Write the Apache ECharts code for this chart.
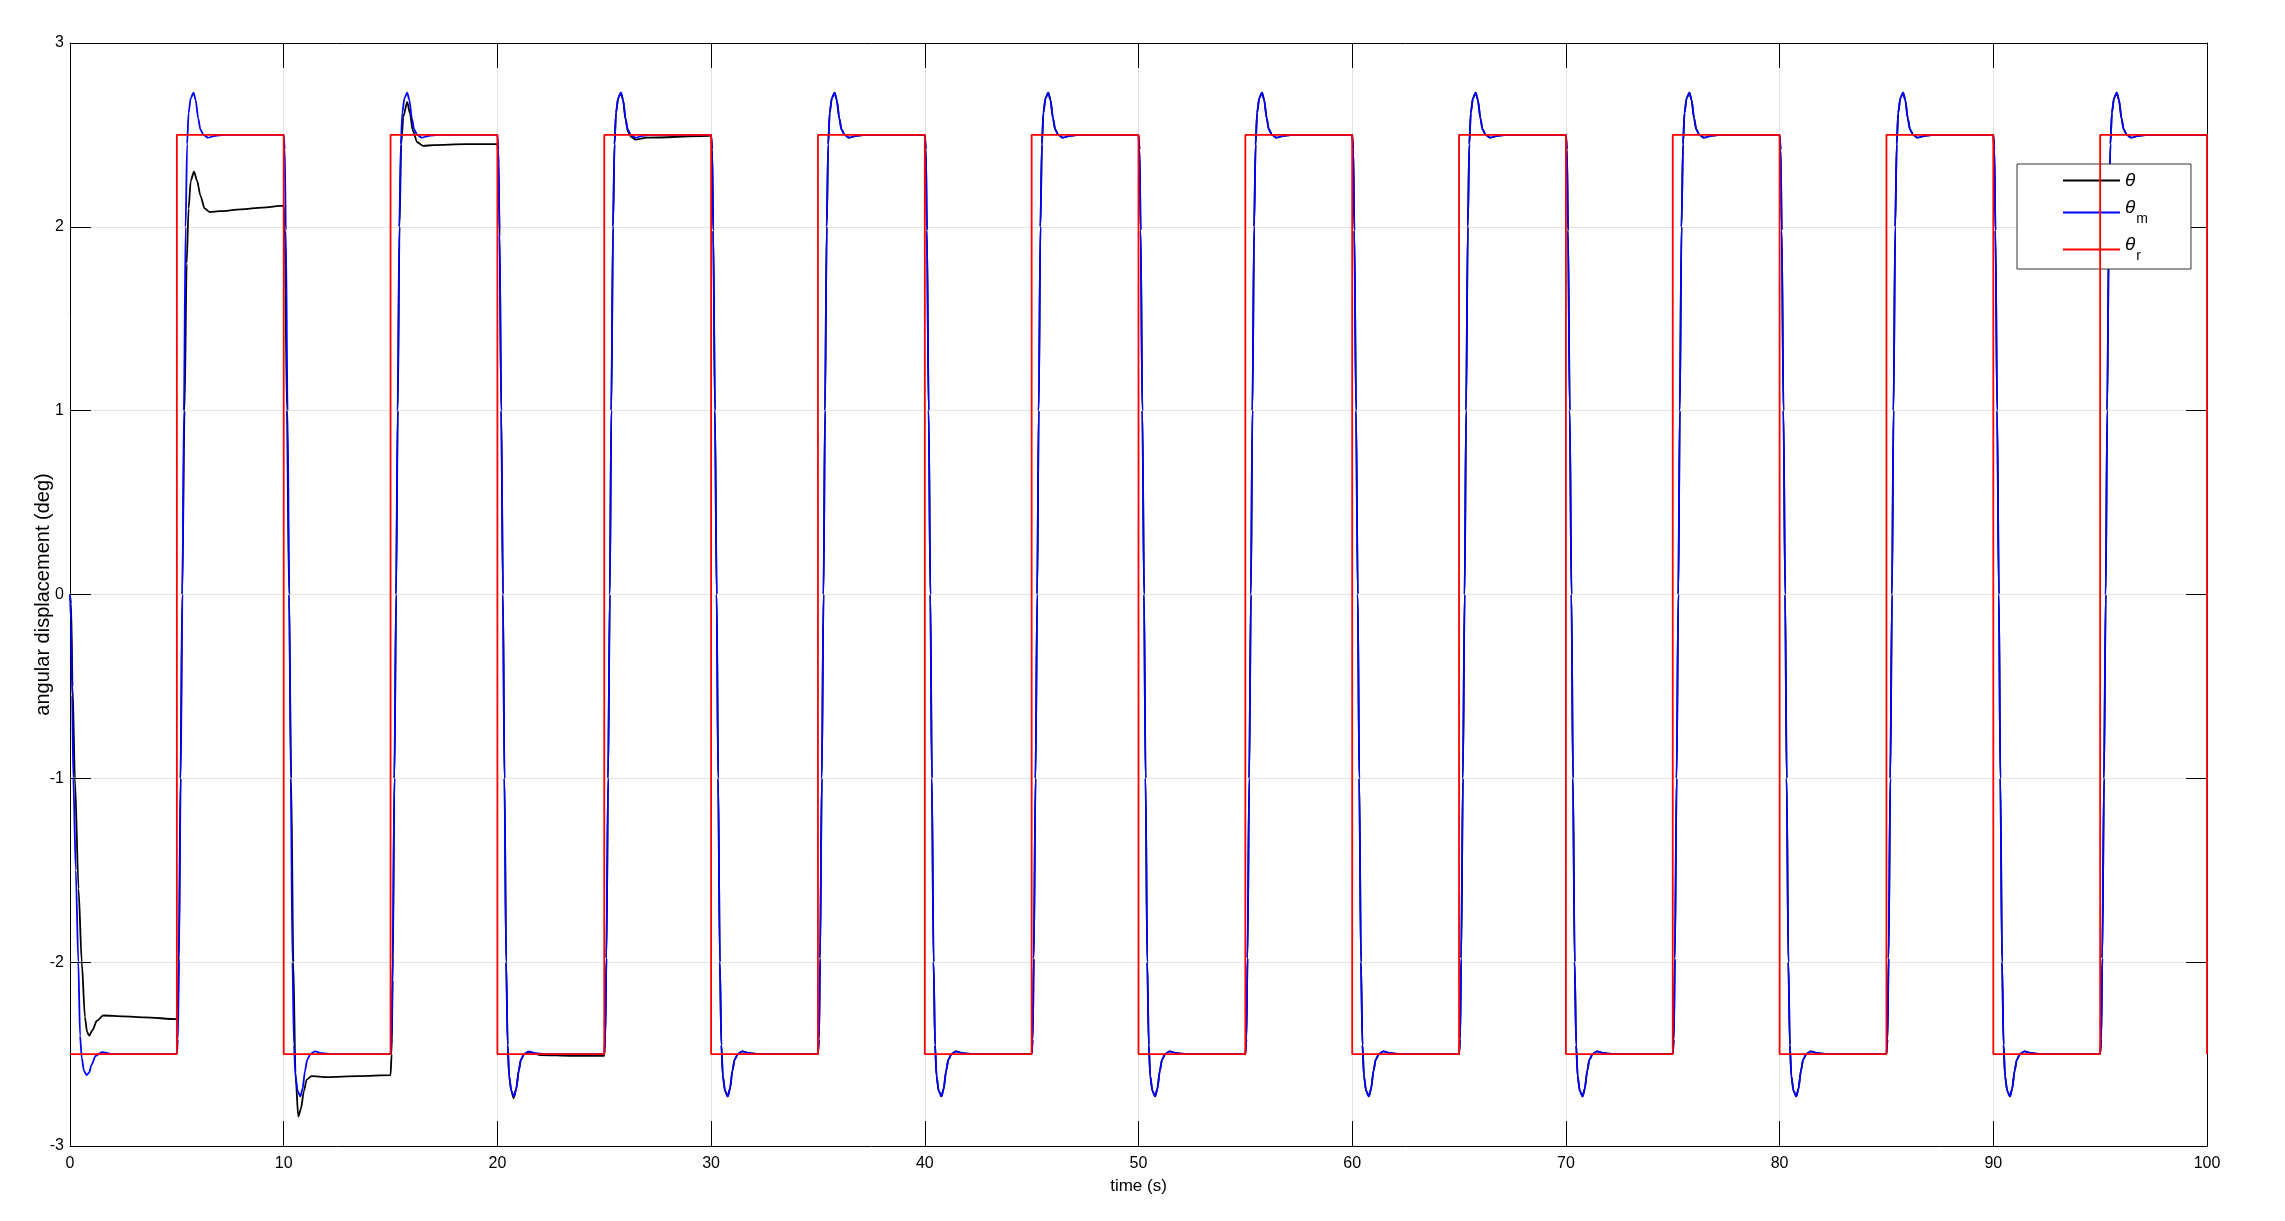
<!DOCTYPE html>
<html>
<head>
<meta charset="utf-8">
<script src="https://cdn.jsdelivr.net/npm/echarts@6/dist/echarts.min.js"></script>
<style>
html,body{margin:0;padding:0;background:#ffffff;}
#chart{width:2285px;height:1221px;}
</style>
</head>
<body>
<div id="chart"></div>
<script>
// ---------------- data ----------------
// switching instants of the square reference (s) and level after each switch (deg)
const switchTimes = [5,10,15,20,25,30,35,40,45,50,55,60,65,70,75,80,85,90,95,100];
const refLevels   = [2.5,-2.5,2.5,-2.5,2.5,-2.5,2.5,-2.5,2.5,-2.5,2.5,-2.5,2.5,-2.5,2.5,-2.5,2.5,-2.5,2.5,-2.5];
const refStartLevel = -2.5;

// model output θm : first response from 0 (absolute time, deg)
const modelInitial = [[0,0],[0.05,-0.15],[0.1,-0.55],[0.155,-1.0],[0.27,-1.5],[0.39,-2.0],[0.47,-2.4],
  [0.55,-2.52],[0.65,-2.59],[0.78,-2.615],[0.9,-2.6],[1.0,-2.56],[1.2,-2.51],[1.5,-2.49],[2.0,-2.5]];
// model output θm : response after a rising switch (time after switch, deg)
const modelRise = [[0,-2.5],[0.05,-2.42],[0.1,-1.98],[0.18,-1.0],[0.26,0.0],[0.33,1.0],[0.41,2.0],[0.48,2.45],
  [0.55,2.62],[0.65,2.7],[0.78,2.73],[0.88,2.69],[1.0,2.59],[1.1,2.53],[1.25,2.5],[1.45,2.485],[1.8,2.495],[2.2,2.5]];
// model output θm : response after a falling switch (time after switch, deg)
const modelFall = [[0,2.5],[0.05,2.42],[0.1,1.98],[0.18,1.0],[0.26,0.0],[0.33,-1.0],[0.41,-2.0],[0.48,-2.45],
  [0.55,-2.62],[0.65,-2.7],[0.78,-2.73],[0.88,-2.69],[1.0,-2.59],[1.1,-2.53],[1.25,-2.5],[1.45,-2.485],[1.8,-2.495],[2.2,-2.5]];

// plant output θ : first 30 s (absolute time, deg); afterwards it coincides with θm
const plantEarly = [
  [0,0],[0.05,-0.05],[0.12,-0.5],[0.23,-1.0],[0.4,-1.6],[0.55,-2.0],[0.7,-2.3],[0.8,-2.38],[0.9,-2.4],
  [1.05,-2.37],[1.25,-2.32],[1.56,-2.29],[2.5,-2.295],[3.5,-2.3],[5,-2.31],
  [5.05,-2.25],[5.09,-2.0],[5.17,-1.0],[5.25,0.0],[5.36,1.0],[5.46,1.8],[5.55,2.1],[5.65,2.25],[5.8,2.3],
  [5.95,2.25],[6.1,2.17],[6.3,2.1],[6.55,2.08],[7,2.085],[8,2.095],[9,2.105],[10,2.115],
  [10.05,2.0],[10.15,1.0],[10.25,0.0],[10.35,-1.0],[10.45,-2.0],[10.55,-2.6],[10.68,-2.84],[10.8,-2.8],
  [10.95,-2.7],[11.07,-2.64],[11.3,-2.62],[12,-2.625],[13.5,-2.62],[15,-2.615],
  [15.05,-2.5],[15.1,-2.1],[15.18,-1.0],[15.26,0.0],[15.34,1.0],[15.42,2.0],[15.5,2.45],[15.6,2.6],
  [15.78,2.68],[15.9,2.62],[16.05,2.52],[16.25,2.46],[16.53,2.44],[17,2.445],[18.5,2.45],[20,2.45],
  [20.05,2.35],[20.1,1.95],[20.18,1.0],[20.26,0.0],[20.33,-1.0],[20.41,-2.0],[20.48,-2.45],[20.55,-2.62],
  [20.65,-2.7],[20.76,-2.74],[20.88,-2.69],[21.0,-2.59],[21.1,-2.53],[21.25,-2.5],[21.5,-2.49],[22,-2.505],
  [23.5,-2.51],[25,-2.51],
  [25.05,-2.4],[25.1,-1.98],[25.18,-1.0],[25.26,0.0],[25.33,1.0],[25.41,2.0],[25.48,2.45],[25.55,2.62],
  [25.65,2.7],[25.78,2.73],[25.88,2.69],[26.0,2.58],[26.1,2.52],[26.25,2.49],[26.45,2.475],[27,2.485],[29.9,2.495]
];
const plantFollowsModelFrom = 30;

const seriesNames = ['theta','theta_m','theta_r'];
const legendLabels = {theta:['θ',''], theta_m:['θ','m'], theta_r:['θ','r']};

// ---------------- build series from the arrays ----------------
function buildFromSwitches(initial, fromTime) {
  const pts = initial.slice();
  for (let i = 0; i < switchTimes.length; i++) {
    const s = switchTimes[i];
    if (s < fromTime) continue;
    const tpl = refLevels[i] > 0 ? modelRise : modelFall;
    for (const p of tpl) {
      if (s + p[0] <= 100) pts.push([s + p[0], p[1]]);
    }
  }
  return pts;
}
const modelData = buildFromSwitches(modelInitial, 5);
const plantData = buildFromSwitches(plantEarly, plantFollowsModelFrom);
const refData = [[0, refStartLevel]];
let prev = refStartLevel;
for (let i = 0; i < switchTimes.length; i++) {
  refData.push([switchTimes[i], prev]);
  refData.push([switchTimes[i], refLevels[i]]);
  prev = refLevels[i];
}

// ---------------- chart ----------------
const FONT = 'Liberation Sans, Arial, Helvetica, sans-serif';
const chart = echarts.init(document.getElementById('chart'), null, {renderer:'canvas'});
const tickStyle = {color:'#000000', width:1};
chart.setOption({
  animation: false,
  backgroundColor: '#ffffff',
  grid: {left:70, top:43, right:78, bottom:75, containLabel:false},
  xAxis: [
    {type:'value', min:0, max:100, interval:10, position:'bottom',
     name:'time (s)', nameLocation:'middle', nameGap:32, nameMoveOverlap:false,
     nameTextStyle:{color:'#000', fontSize:17, fontFamily:FONT},
     axisLine:{show:true, onZero:false, lineStyle:{color:'#000', width:1}},
     axisTick:{show:true, inside:true, length:25, lineStyle:tickStyle},
     axisLabel:{color:'#000', fontSize:16, fontFamily:FONT, margin:10},
     splitLine:{show:true, lineStyle:{color:'#e3e3e3', width:1}}},
    {type:'value', min:0, max:100, interval:10, position:'top',
     axisLine:{show:true, onZero:false, lineStyle:{color:'#000', width:1}},
     axisTick:{show:true, inside:true, length:25, lineStyle:tickStyle},
     axisLabel:{show:false}, splitLine:{show:false}}
  ],
  yAxis: [
    {type:'value', min:-3, max:3, interval:1, position:'left',
     name:'angular displacement (deg)', nameLocation:'middle', nameGap:17, nameRotate:90, nameMoveOverlap:false,
     nameTextStyle:{color:'#000', fontSize:20, fontFamily:FONT},
     axisLine:{show:true, onZero:false, lineStyle:{color:'#000', width:1}},
     axisTick:{show:true, inside:true, length:21, lineStyle:tickStyle},
     axisLabel:{color:'#000', fontSize:16, fontFamily:FONT, margin:6},
     splitLine:{show:true, lineStyle:{color:'#e3e3e3', width:1}}},
    {type:'value', min:-3, max:3, interval:1, position:'right',
     axisLine:{show:true, onZero:false, lineStyle:{color:'#000', width:1}},
     axisTick:{show:true, inside:true, length:21, lineStyle:tickStyle},
     axisLabel:{show:false}, splitLine:{show:false}}
  ],
  legend: {
    data: seriesNames, orient:'vertical', left:2017, top:164,
    icon:'rect', itemWidth:57, itemHeight:2, itemGap:8,
    padding:[7,43,5,46],
    backgroundColor:'#ffffff', borderColor:'#333333', borderWidth:1, borderRadius:0,
    formatter: function (n) {
      const l = legendLabels[n];
      return l[1] ? '{ths|' + l[0] + '}{sub|' + l[1] + '}' : '{th|' + l[0] + '}';
    },
    textStyle: {
      color:'#000', fontFamily:FONT,
      rich: {
        th:  {fontSize:19, fontStyle:'italic', fontFamily:FONT, color:'#000', lineHeight:18},
        ths: {fontSize:19, fontStyle:'italic', fontFamily:FONT, color:'#000', lineHeight:18, padding:[0,0,10,0]},
        sub: {fontSize:14, fontFamily:FONT, color:'#000', lineHeight:14, padding:[14,0,0,1]}
      }
    }
  },
  series: [
    {name:'theta', type:'line', data:plantData, showSymbol:false, symbol:'none', smooth:0.25, smoothMonotone:'x',
     lineStyle:{color:'#000000', width:1.8}, itemStyle:{color:'#000000'}, z:2},
    {name:'theta_m', type:'line', data:modelData, showSymbol:false, symbol:'none', smooth:0.25, smoothMonotone:'x',
     lineStyle:{color:'#0000ff', width:1.8}, itemStyle:{color:'#0000ff'}, z:3},
    {name:'theta_r', type:'line', data:refData, showSymbol:false, symbol:'none',
     lineStyle:{color:'#ff0000', width:1.8}, itemStyle:{color:'#ff0000'}, z:4}
  ]
});
</script>
</body>
</html>
